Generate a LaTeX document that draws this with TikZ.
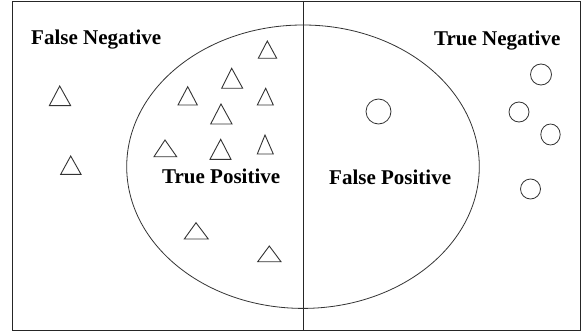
\documentclass[tikz,border=0pt]{standalone}
\usepackage{fontspec}
\setmainfont{Liberation Serif}
\tikzset{
  frame/.style={draw=black!85, line width=0.9pt},
  region/.style={draw=black!80, line width=0.8pt},
  tri/.style={draw=black!80, line width=0.9pt, line join=miter},
  dot/.style={draw=black!80, line width=0.8pt},
  lbl/.style={anchor=base west, inner sep=0pt, font=\fontsize{21}{25}\selectfont\bfseries}
}
% apex x, apex y, base y, left x, right x
\newcommand\mytri[5]{\draw[tri] (#1,#2) -- (#5,#3) -- (#4,#3) -- cycle;}
\begin{document}
\begin{tikzpicture}[x=1pt,y=-1pt]
\useasboundingbox (0,0) rectangle (586,334);
\draw[frame] (12,1) rectangle (580,330);
\coordinate (top) at (303,1);
\coordinate (bot) at (303,330);
\draw[frame] (top) -- (bot);
\draw[region] (303,166.7) ellipse [x radius=176.3pt, y radius=141.7pt];
% labels
\node[lbl] (fn) at (31,45) {False Negative};
\node[lbl] (tn) at (434,46) {True Negative};
\node[lbl] (tp) at (162,183.3) {True Positive};
\node[lbl] (fp) at (329,184) {False Positive};
% triangles
\mytri{267.3}{41}{58.3}{258.3}{276.7}
\mytri{231.7}{68.3}{88.3}{221.7}{242.7}
\mytri{187.7}{86.7}{105}{178}{197.3}
\mytri{265.7}{88.3}{105}{257.3}{273.3}
\mytri{221}{104}{124}{210.7}{232}
\mytri{165}{140}{156.7}{154}{176.7}
\mytri{220.7}{139.3}{159.3}{210}{231}
\mytri{265}{135}{154}{257.3}{273.3}
\mytri{59.7}{86}{105.7}{49.3}{70.7}
\mytri{70.7}{156}{174.3}{60.7}{81}
\mytri{196}{222.7}{239}{184.3}{208.3}
\mytri{269.3}{246}{261.7}{257.7}{281}
% circles
\draw[dot] (378.5,111.5) circle [radius=12.5pt];
\draw[dot] (541,74.5) circle [radius=10.5pt];
\draw[dot] (519,112) circle [radius=10pt];
\draw[dot] (550.5,134.5) ellipse [x radius=9.7pt, y radius=10.5pt];
\draw[dot] (530.5,189) circle [radius=10pt];
\end{tikzpicture}
\end{document}
